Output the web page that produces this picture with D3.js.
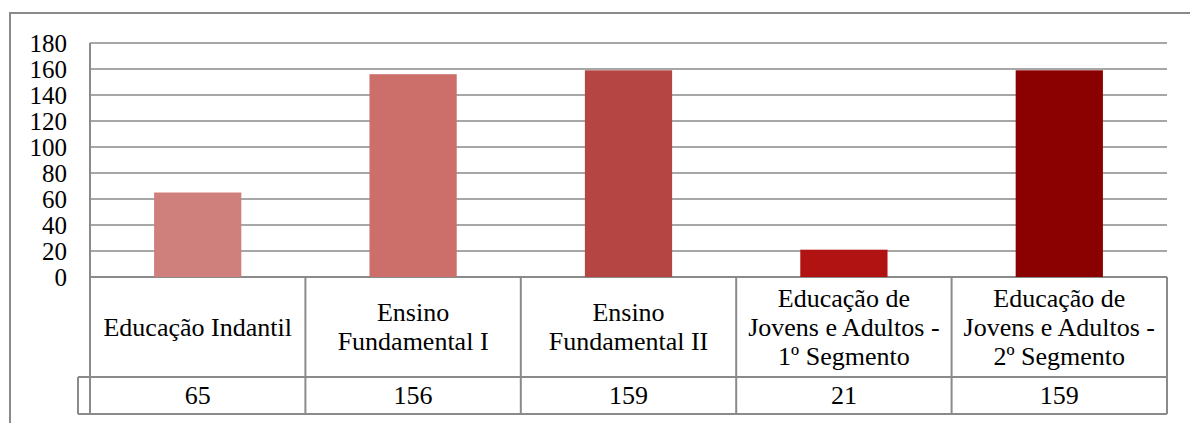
<!DOCTYPE html>
<html><head><meta charset="utf-8">
<script src="https://cdn.jsdelivr.net/npm/d3@7"></script>
<style>body{margin:0;background:#fff}svg{display:block}</style>
</head><body>
<script>
const categories = ["Educação Indantil","Ensino Fundamental I","Ensino Fundamental II","Educação de Jovens e Adultos - 1º Segmento","Educação de Jovens e Adultos - 2º Segmento"];
const categoryLines = [["Educação Indantil"],["Ensino","Fundamental I"],["Ensino","Fundamental II"],["Educação de","Jovens e Adultos -","1º Segmento"],["Educação de","Jovens e Adultos -","2º Segmento"]];
const values = [65,156,159,21,159];
const colors = ["#d0807c","#cc6f6b","#b54543","#b11313","#8b0000"];
const yTicks = [0,20,40,60,80,100,120,140,160,180];

const FONT="Liberation Serif";
const FS=26;
const TFS=25;
const W=1190,H=423;
const svg=d3.select("body").append("svg").attr("width",W).attr("height",H);
const pLeft=90,pRight=1167,pTop=43,pBottom=277;
const grid="#8a8a8a";

svg.append("path").attr("d",`M10,${H}V13H${W}`).attr("fill","none").attr("stroke",grid).attr("stroke-width",2);

const x=d3.scaleBand().domain(categories).range([pLeft,pRight]).paddingInner(0).paddingOuter(0);
const y=d3.scaleLinear().domain([0,180]).range([pBottom,pTop]);

svg.append("g").selectAll("line").data(yTicks).join("line")
 .attr("x1",pLeft).attr("x2",pRight).attr("y1",d=>y(d)).attr("y2",d=>y(d))
 .attr("stroke",grid).attr("stroke-width",d=>d===0?2:1.6);

const yAxis=d3.axisLeft(y).tickValues(yTicks).tickSize(0).tickPadding(0);
const ga=svg.append("g").attr("transform",`translate(${pLeft-23},0)`).call(yAxis);
ga.attr("font-family",FONT).attr("font-size",TFS);
ga.select(".domain").remove();
ga.selectAll("text").attr("fill","#000").attr("dy","0.34em");
svg.append("line").attr("x1",pLeft).attr("x2",pLeft).attr("y1",pTop).attr("y2",414).attr("stroke",grid).attr("stroke-width",2);

const bw=x.bandwidth()*0.405;
svg.append("g").selectAll("rect").data(values).join("rect")
 .attr("x",(d,i)=>x(categories[i])+x.bandwidth()/2-bw/2)
 .attr("width",bw)
 .attr("y",d=>y(d)).attr("height",d=>y(0)-y(d))
 .attr("fill",(d,i)=>colors[i]);

const rowTop=pBottom,rowMid=377,rowBot=414;
const tg=svg.append("g");
tg.append("line").attr("x1",pLeft).attr("x2",pRight).attr("y1",rowMid).attr("y2",rowMid).attr("stroke",grid).attr("stroke-width",2);
tg.append("line").attr("x1",78).attr("x2",pRight).attr("y1",rowBot).attr("y2",rowBot).attr("stroke",grid).attr("stroke-width",2);
tg.append("line").attr("x1",78).attr("x2",pLeft).attr("y1",rowMid).attr("y2",rowMid).attr("stroke",grid).attr("stroke-width",2);
tg.append("line").attr("x1",78).attr("x2",78).attr("y1",rowMid).attr("y2",rowBot).attr("stroke",grid).attr("stroke-width",2);
categories.forEach((c,i)=>{
  const xr=x(c)+x.bandwidth();
  tg.append("line").attr("x1",xr).attr("x2",xr).attr("y1",rowTop).attr("y2",rowBot).attr("stroke",grid).attr("stroke-width",2);
});
const lh=29;
categories.forEach((c,i)=>{
  const cx=x(c)+x.bandwidth()/2;
  const lines=categoryLines[i];
  const c0=(rowTop+rowMid)/2 - (lines.length-1)*lh/2;
  lines.forEach((t,j)=>{
    tg.append("text").attr("x",cx).attr("y",c0+j*lh).attr("dy","0.34em").attr("text-anchor","middle")
      .attr("fill","#000").attr("font-family",FONT).attr("font-size",FS).text(t);
  });
  tg.append("text").attr("x",cx).attr("y",(rowMid+rowBot)/2).attr("dy","0.34em").attr("text-anchor","middle")
    .attr("fill","#000").attr("font-family",FONT).attr("font-size",FS).text(values[i]);
});
</script>
</body></html>
